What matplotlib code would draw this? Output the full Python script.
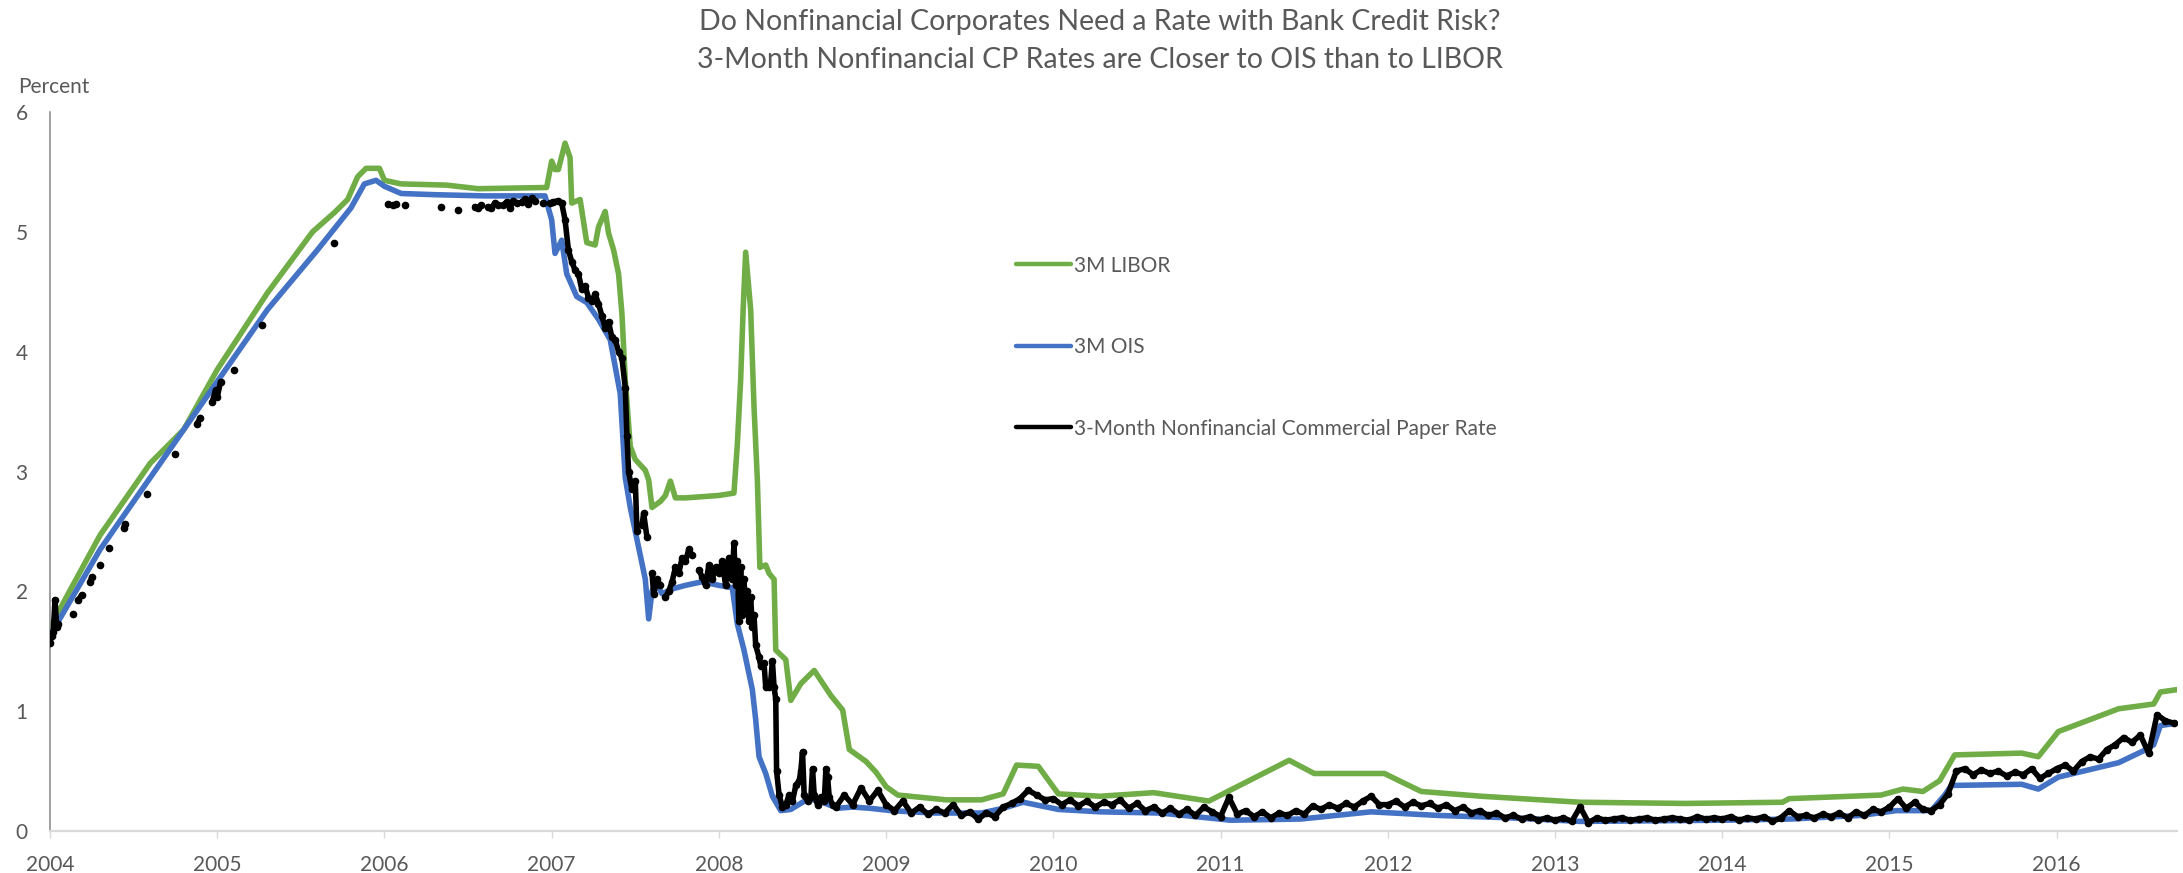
import matplotlib.pyplot as plt
import numpy as np

nan = np.nan

# ---- data (x = position on the year axis) ----
libor_x = [2004.00, 2004.30, 2004.60, 2004.80, 2005.00, 2005.30, 2005.57, 2005.70, 2005.78, 2005.84,
           2005.89, 2005.97, 2006.00, 2006.10, 2006.37, 2006.56, 2006.97, 2007.00, 2007.02, 2007.04,
           2007.08, 2007.11, 2007.12, 2007.17, 2007.21, 2007.26, 2007.28, 2007.32, 2007.34, 2007.37,
           2007.40, 2007.42, 2007.44, 2007.47, 2007.50, 2007.56, 2007.58, 2007.60, 2007.65, 2007.68,
           2007.71, 2007.74, 2007.80, 2008.00, 2008.09, 2008.11, 2008.13, 2008.145, 2008.16, 2008.19,
           2008.21, 2008.23, 2008.245, 2008.28, 2008.30, 2008.33, 2008.34, 2008.40, 2008.43, 2008.49,
           2008.57, 2008.67, 2008.74, 2008.78, 2008.88, 2008.94, 2009.00, 2009.07, 2009.36, 2009.57,
           2009.70, 2009.78, 2009.91, 2010.03, 2010.28, 2010.60, 2010.93, 2011.41, 2011.56, 2011.98,
           2012.06, 2012.20, 2012.56, 2013.15, 2013.78, 2014.36, 2014.40, 2014.95, 2015.08, 2015.20,
           2015.30, 2015.39, 2015.79, 2015.89, 2016.01, 2016.37, 2016.58, 2016.62, 2016.72]
libor_y = [1.70, 2.47, 3.07, 3.35, 3.85, 4.49, 5.00, 5.16, 5.27, 5.46,
           5.53, 5.53, 5.43, 5.40, 5.39, 5.36, 5.37, 5.59, 5.52, 5.52,
           5.74, 5.62, 5.24, 5.27, 4.91, 4.89, 5.04, 5.17, 4.99, 4.85,
           4.65, 4.32, 3.77, 3.21, 3.10, 3.01, 2.93, 2.70, 2.75, 2.80,
           2.92, 2.78, 2.78, 2.80, 2.82, 3.22, 3.76, 4.35, 4.83, 4.35,
           3.54, 2.93, 2.20, 2.22, 2.15, 2.10, 1.51, 1.43, 1.09, 1.23,
           1.34, 1.13, 1.01, 0.68, 0.58, 0.49, 0.37, 0.30, 0.26, 0.26,
           0.31, 0.55, 0.54, 0.31, 0.29, 0.32, 0.25, 0.59, 0.48, 0.48,
           0.425, 0.33, 0.29, 0.24, 0.23, 0.24, 0.27, 0.30, 0.35, 0.33,
           0.42, 0.635, 0.65, 0.62, 0.83, 1.02, 1.06, 1.16, 1.18]

ois_x = [2004.00, 2004.30, 2004.60, 2005.00, 2005.30, 2005.60, 2005.80, 2005.88, 2005.95, 2006.00,
         2006.10, 2006.30, 2006.60, 2006.96, 2007.00, 2007.02, 2007.06, 2007.09, 2007.15, 2007.21,
         2007.28, 2007.35, 2007.41, 2007.44, 2007.47, 2007.50, 2007.53, 2007.56, 2007.58, 2007.60,
         2007.62, 2007.66, 2007.72, 2007.80, 2007.90, 2008.00, 2008.08, 2008.11, 2008.15, 2008.20,
         2008.22, 2008.24, 2008.28, 2008.32, 2008.37, 2008.43, 2008.50, 2008.54, 2008.62, 2008.71,
         2008.80, 2008.90, 2009.03, 2009.28, 2009.57, 2009.70, 2009.82, 2010.03, 2010.28, 2010.64,
         2011.06, 2011.48, 2011.90, 2012.30, 2012.73, 2013.15, 2013.99, 2014.41, 2014.83, 2015.04,
         2015.25, 2015.33, 2015.37, 2015.79, 2015.89, 2016.01, 2016.37, 2016.52, 2016.58, 2016.62,
         2016.72]
ois_y = [1.63, 2.35, 2.95, 3.75, 4.35, 4.85, 5.20, 5.40, 5.43, 5.38,
         5.32, 5.31, 5.30, 5.30, 5.10, 4.82, 4.93, 4.65, 4.46, 4.41,
         4.27, 4.10, 3.65, 2.95, 2.70, 2.50, 2.30, 2.10, 1.77, 2.00,
         2.08, 1.98, 2.02, 2.05, 2.08, 2.05, 2.03, 1.73, 1.51, 1.18,
         0.93, 0.62, 0.48, 0.29, 0.17, 0.18, 0.24, 0.27, 0.24, 0.19,
         0.20, 0.19, 0.17, 0.15, 0.15, 0.19, 0.24, 0.18, 0.16, 0.15,
         0.09, 0.10, 0.16, 0.13, 0.11, 0.08, 0.09, 0.10, 0.13, 0.17,
         0.17, 0.30, 0.38, 0.39, 0.35, 0.45, 0.57, 0.67, 0.72, 0.88,
         0.90]

# commercial paper: gaps (nan) where the series has missing days
cp_early_x = [2004.00, 2004.01, 2004.02, 2004.03, 2004.04, 2004.05, 2004.07, 2004.14, 2004.15, 2004.17,
              2004.19, 2004.21, 2004.24, 2004.25, 2004.27, 2004.30, 2004.32, 2004.35, 2004.37, 2004.44,
              2004.45, 2004.50, 2004.58, 2004.62, 2004.75, 2004.80, 2004.88, 2004.90, 2004.93, 2004.97,
              2004.99, 2005.00, 2005.02, 2005.05, 2005.10, 2005.15, 2005.27, 2005.35, 2005.70, 2005.80,
              2006.02, 2006.05, 2006.07, 2006.09, 2006.12, 2006.15, 2006.34, 2006.38, 2006.44, 2006.48,
              2006.54, 2006.56, 2006.58, 2006.60, 2006.62, 2006.64, 2006.66, 2006.68, 2006.695, 2006.71,
              2006.73, 2006.75, 2006.77, 2006.79, 2006.805, 2006.82, 2006.84, 2006.86, 2006.88, 2006.90,
              2006.92, 2006.95, 2006.97, 2006.99, 2007.01, 2007.04, 2007.06, 2007.08, 2007.10, 2007.12,
              2007.14, 2007.16, 2007.18, 2007.20, 2007.22, 2007.24, 2007.26, 2007.28, 2007.30, 2007.32,
              2007.34, 2007.36, 2007.38, 2007.40, 2007.42, 2007.44, 2007.45, 2007.46, 2007.48, 2007.50,
              2007.51, 2007.525, 2007.54, 2007.55, 2007.57, 2007.585, 2007.60, 2007.61, 2007.63, 2007.65,
              2007.665, 2007.68, 2007.70, 2007.72, 2007.74, 2007.76, 2007.78, 2007.80, 2007.82, 2007.84,
              2007.86, 2007.88, 2007.90, 2007.92, 2007.94, 2007.96, 2007.98, 2008.00, 2008.02, 2008.04,
              2008.06, 2008.08, 2008.09, 2008.10, 2008.11, 2008.12, 2008.13, 2008.14, 2008.15, 2008.16,
              2008.17, 2008.18, 2008.19, 2008.20, 2008.21, 2008.22, 2008.24, 2008.25, 2008.27, 2008.28,
              2008.30, 2008.31, 2008.32, 2008.33, 2008.34, 2008.345, 2008.36, 2008.38, 2008.40, 2008.42,
              2008.44, 2008.46, 2008.48, 2008.49, 2008.50, 2008.51, 2008.53, 2008.55, 2008.56, 2008.57,
              2008.59, 2008.61, 2008.63, 2008.64, 2008.65, 2008.66, 2008.68]
cp_early_y = [1.57, 1.63, 1.66, 1.93, 1.70, 1.73, nan, 1.81, nan, 1.93,
              1.97, nan, 2.08, 2.12, nan, 2.22, nan, 2.36, nan, 2.53,
              2.56, nan, 2.81, nan, 3.15, nan, 3.40, 3.45, nan, 3.58,
              3.68, 3.62, 3.75, nan, 3.85, nan, 4.22, nan, 4.91, nan,
              5.23, 5.22, 5.23, nan, 5.22, nan, 5.21, nan, 5.18, nan,
              5.21, 5.20, 5.22, nan, 5.21, 5.20, 5.24, 5.22, nan, 5.22,
              5.25, 5.20, 5.26, 5.24, nan, 5.25, 5.27, 5.23, 5.28, 5.26,
              nan, 5.24, nan, 5.24, 5.25, 5.26, 5.24, 5.10, 4.85, 4.75,
              4.68, 4.65, 4.52, 4.55, 4.45, 4.42, 4.48, 4.40, 4.30, 4.20,
              4.25, 4.12, 4.10, 4.00, 3.95, 3.70, 3.30, 3.00, 2.85, 2.92,
              2.50, nan, 2.55, 2.65, 2.45, nan, 2.15, 1.98, 2.10, 2.05,
              nan, 1.95, 2.00, 2.08, 2.20, 2.15, 2.28, 2.25, 2.35, 2.30,
              nan, 2.18, 2.12, 2.05, 2.22, 2.10, 2.20, 2.15, 2.25, 2.05,
              2.28, 2.10, 2.40, 2.05, 2.25, 1.75, 2.20, 1.80, 2.10, 1.85,
              2.00, 1.75, 1.95, 1.70, 1.80, 1.55, 1.45, 1.38, 1.40, 1.20,
              1.20, 1.25, 1.42, 1.20, 1.10, 0.50, 0.30, 0.20, 0.22, 0.30,
              0.25, 0.38, 0.42, 0.50, 0.66, 0.30, 0.25, 0.28, 0.52, 0.30,
              0.22, 0.28, 0.25, 0.52, 0.45, 0.28, 0.22]

# from 2008.70 on, one reading every 0.05 year
cp_late_start = 2008.70
cp_late_step = 0.05
cp_late_y = [0.20, 0.30, 0.22, 0.36, 0.25, 0.34,                                  # 2008.70-2008.95
             0.22, 0.17, 0.25, 0.15, 0.20, 0.14, 0.18, 0.15, 0.22, 0.13,
             0.16, 0.10, 0.15, 0.12, 0.20, 0.23, 0.27, 0.34, 0.30, 0.26,          # 2009
             0.27, 0.22, 0.26, 0.21, 0.25, 0.20, 0.24, 0.22, 0.26, 0.19,
             0.23, 0.17, 0.20, 0.15, 0.19, 0.14, 0.18, 0.13, 0.20, 0.16,          # 2010
             0.12, 0.28, 0.14, 0.17, 0.12, 0.16, 0.11, 0.15, 0.13, 0.17,
             0.14, 0.21, 0.18, 0.22, 0.19, 0.23, 0.20, 0.25, 0.29, 0.22,          # 2011
             0.22, 0.25, 0.20, 0.24, 0.21, 0.23, 0.19, 0.22, 0.17, 0.20,
             0.15, 0.17, 0.13, 0.15, 0.11, 0.13, 0.10, 0.12, 0.09, 0.11,          # 2012
             0.09, 0.11, 0.08, 0.20, 0.07, 0.11, 0.09, 0.10, 0.11, 0.09,
             0.10, 0.11, 0.09, 0.10, 0.11, 0.10, 0.09, 0.12, 0.10, 0.11,          # 2013
             0.10, 0.12, 0.09, 0.11, 0.10, 0.12, 0.08, 0.11, 0.17, 0.12,
             0.13, 0.11, 0.14, 0.12, 0.15, 0.11, 0.16, 0.13, 0.18, 0.16,          # 2014
             0.20, 0.27, 0.19, 0.24, 0.18, 0.17, 0.22, 0.31, 0.50, 0.52,
             0.47, 0.51, 0.48, 0.50, 0.46, 0.49, 0.47, 0.52, 0.44, 0.48,          # 2015
             0.52, 0.55, 0.50, 0.58, 0.62, 0.60, 0.68, 0.72, 0.78, 0.74,
             0.80, 0.65, 0.97, 0.92, 0.90]                                        # 2016

years = list(range(2004, 2017))
labels = ['3M LIBOR', '3M OIS', '3-Month Nonfinancial Commercial Paper Rate']
colors = ['#70AD47', '#4472C4', '#000000']
title1 = 'Do Nonfinancial Corporates Need a Rate with Bank Credit Risk?'
title2 = '3-Month Nonfinancial CP Rates are Closer to OIS than to LIBOR'
#=================================================================================
cp_late_x = cp_late_start + cp_late_step * np.arange(len(cp_late_y))
cp_x = np.concatenate([cp_early_x, cp_late_x])
cp_y = np.concatenate([cp_early_y, cp_late_y])

plt.rcParams['font.family'] = ['Lato', 'DejaVu Sans']
grey = '#595959'

fig = plt.figure(figsize=(21.83, 8.73), dpi=100)
ax = fig.add_axes([0.0229, 0.0481, 0.9744, 0.8236])

lw = 4.0
ax.plot(libor_x, libor_y, color=colors[0], lw=lw, label=labels[0], solid_joinstyle='round', zorder=2)
ax.plot(ois_x, ois_y, color=colors[1], lw=lw, label=labels[1], solid_joinstyle='round', zorder=3)
ax.plot(cp_x, cp_y, color=colors[2], lw=lw, label=labels[2], marker='o', ms=4.5,
        solid_joinstyle='round', solid_capstyle='round', zorder=4)

ax.set_xlim(2004, 2016.72)
ax.set_ylim(0, 6)
ax.set_xticks(years)
ax.set_xticklabels([str(y) for y in years])
ax.set_yticks(range(0, 7))

for s in ['top', 'right']:
    ax.spines[s].set_visible(False)
ax.spines['left'].set_color('#868686')
ax.spines['left'].set_linewidth(1.1)
ax.spines['bottom'].set_color('#d9d9d9')
ax.spines['bottom'].set_linewidth(1.6)
ax.tick_params(axis='y', length=0, pad=16, labelsize=15, labelcolor=grey)
ax.tick_params(axis='x', length=5, width=1, color='#d9d9d9', pad=12, labelsize=15, labelcolor=grey)

leg = ax.legend(loc='center left', bbox_to_anchor=(0.454, 0.673), frameon=False, fontsize=15,
                handlelength=2.64, handletextpad=0.15, labelspacing=2.95, borderpad=0, borderaxespad=0)
for h in leg.get_lines():
    h.set_marker('')
    h.set_solid_capstyle('round')
    h.set_linewidth(3.2)
for t in leg.get_texts():
    t.set_color(grey)

fig.text(18 / 2183, 1 - 87 / 873, 'Percent', ha='left', va='center', fontsize=15, color=grey)
fig.text(0.504, 1 - 22 / 873, title1, ha='center', va='center', fontsize=20.5, color=grey)
fig.text(0.504, 1 - 60 / 873, title2, ha='center', va='center', fontsize=20.5, color=grey)

plt.savefig('out.png', dpi=100)
